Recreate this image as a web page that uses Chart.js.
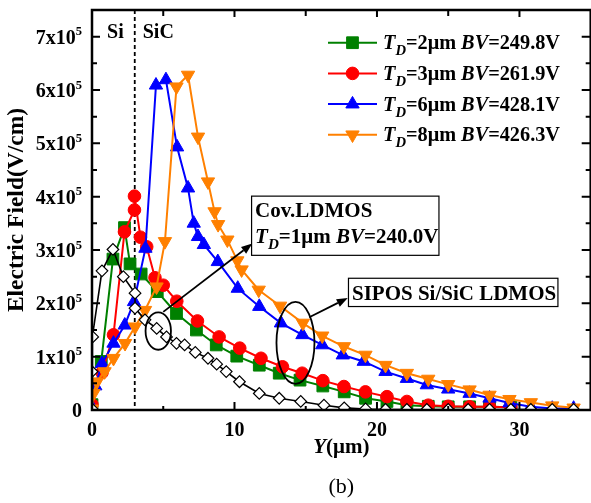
<!DOCTYPE html>
<html>
<head>
<meta charset="utf-8">
<script src="https://cdn.jsdelivr.net/npm/chart.js@4.4.0/dist/chart.umd.min.js"></script>
<style>
  html, body { margin: 0; padding: 0; background: #fff; overflow: hidden; }
  #wrap { position: relative; width: 600px; height: 503px; }
</style>
</head>
<body>
<div id="wrap"><canvas id="c" width="600" height="503"></canvas></div>
<script>
// Electric field along the surface (units of 10^5 V/cm) versus position Y (µm)

// T_D = 2 µm
const yTD2 = [0, 0.65, 1.47, 2.28, 2.67, 3.45, 4.58, 5.93, 7.33, 8.72, 10.16, 11.74, 13.14, 14.6, 16.2, 17.7, 19.2, 20.7, 22.1, 23.6, 25.0, 26.5, 27.9, 29.4];
const eTD2 = [0.1, 0.91, 2.83, 3.42, 2.74, 2.55, 2.22, 1.81, 1.50, 1.22, 1.01, 0.84, 0.69, 0.56, 0.45, 0.34, 0.22, 0.16, 0.09, 0.07, 0.06, 0.06, 0.06, 0.05];

// T_D = 3 µm
const yTD3 = [0, 0.7, 1.51, 2.28, 2.98, 2.98, 3.4, 3.84, 4.42, 5.0, 5.95, 7.4, 8.92, 10.37, 11.86, 13.37, 14.75, 16.2, 17.68, 19.19, 20.7, 22.1, 23.6, 25.0, 26.5, 27.9, 29.4];
const eTD3 = [0.1, 0.7, 1.41, 3.34, 3.75, 4.01, 3.24, 3.06, 2.48, 2.34, 2.04, 1.67, 1.37, 1.16, 0.97, 0.81, 0.69, 0.55, 0.44, 0.34, 0.25, 0.16, 0.09, 0.07, 0.06, 0.06, 0.05];

// T_D = 6 µm
const yTD6 = [0, 0.23, 0.7, 1.51, 2.3, 2.95, 3.75, 4.49, 5.19, 5.97, 6.74, 7.14, 7.44, 7.85, 8.83, 10.23, 11.74, 13.26, 14.77, 16.16, 17.6, 19.07, 20.6, 22.1, 23.5, 25.0, 26.5, 27.9, 29.3, 30.8, 32.3, 33.8];
const eTD6 = [0.05, 0.45, 0.87, 1.25, 1.59, 2.03, 3.03, 6.09, 6.19, 4.93, 4.16, 3.5, 3.25, 3.1, 2.78, 2.28, 1.94, 1.63, 1.41, 1.22, 1.03, 0.91, 0.72, 0.59, 0.47, 0.39, 0.31, 0.22, 0.13, 0.06, 0.03, 0.03];

// T_D = 8 µm
const yTD8 = [0, 0.1, 0.35, 0.88, 1.51, 2.32, 3.02, 3.72, 4.53, 5.12, 5.93, 6.74, 7.44, 8.14, 8.6, 8.85, 9.5, 10.2, 10.5, 11.7, 13.2, 14.8, 16.16, 17.68, 19.19, 20.6, 22.1, 23.6, 25.0, 26.5, 27.9, 29.3, 30.8, 32.3, 33.8];
const eTD8 = [0.02, 0.31, 0.53, 0.72, 0.97, 1.25, 1.56, 1.87, 2.31, 3.16, 6.06, 6.28, 5.12, 4.28, 3.72, 3.48, 3.19, 2.8, 2.63, 2.25, 1.95, 1.63, 1.39, 1.19, 1.03, 0.84, 0.69, 0.58, 0.48, 0.38, 0.28, 0.2, 0.14, 0.08, 0.04];

// Conventional LDMOS, T_D = 1 µm
const yConv = [0, 0, 0.05, 0.7, 1.47, 2.2, 3.02, 3.02, 3.72, 4.54, 5.23, 5.93, 6.5, 7.25, 8.14, 8.75, 9.42, 10.35, 11.74, 13.14, 14.65, 16.28, 17.7, 19.2, 20.6, 22.1, 23.5, 25.0, 26.4, 27.9, 29.4, 30.8, 32.3, 33.8];
const eConv = [0.02, 0.72, 1.37, 2.61, 3.01, 2.5, 2.19, 1.91, 1.69, 1.53, 1.37, 1.25, 1.22, 1.08, 0.97, 0.86, 0.72, 0.53, 0.31, 0.22, 0.16, 0.09, 0.04, 0.02, 0.01, 0.01, 0.01, 0.01, 0.01, 0.01, 0.01, 0.01, 0.01, 0.01];

// Legend values
const tdLabels = ['2', '3', '6', '8'];
const bvLabels = ['249.8', '261.9', '428.1', '426.3'];

// Axis ticks
const xMajorTicks = [0, 10, 20, 30];
const xMinorTicks = [5, 15, 25];
const yMajorTicks = [0, 1, 2, 3, 4, 5, 6, 7];
const yMinorTicks = [0.5, 1.5, 2.5, 3.5, 4.5, 5.5, 6.5];
const xTickLabels = ['0', '10', '20', '30'];
const yTickLabels = ['0', '1', '2', '3', '4', '5', '6', '7'];

const X_MAX = 35, Y_MAX = 7.5;
const INTERFACE_Y = 3;           // Si / SiC boundary, µm

const FONT = '"Liberation Serif", "Times New Roman", serif';

function series(xs, es, color, style, radius, rotation, fill, order) {
  return {
    data: xs.map((x, i) => ({ x: x, y: es[i] })),
    showLine: true,
    borderColor: color,
    borderWidth: 2,
    backgroundColor: fill,
    pointBackgroundColor: fill,
    pointBorderColor: color,
    pointBorderWidth: 1,
    pointStyle: style,
    pointRadius: radius,
    pointRotation: rotation,
    tension: 0,
    clip: 0,
    order: order
  };
}

const GREEN = '#008000', RED = '#ff0000', BLUE = '#0000ff', ORANGE = '#ff8000';

const legendItems = [
  { color: GREEN,  style: 'rect',     radius: 8.3, rotation: 0 },
  { color: RED,    style: 'circle',   radius: 6.3, rotation: 0 },
  { color: BLUE,   style: 'triangle', radius: 7.7, rotation: 0 },
  { color: ORANGE, style: 'triangle', radius: 7.7, rotation: 180 }
];

const datasets = [
  series(yTD2, eTD2, GREEN,  'rect',     8.3, 0,   GREEN,  4),
  series(yTD3, eTD3, RED,    'circle',   6.3, 0,   RED,    3),
  series(yTD6, eTD6, BLUE,   'triangle', 7.7, 0,   BLUE,   2),
  series(yTD8, eTD8, ORANGE, 'triangle', 7.7, 180, ORANGE, 1),
  Object.assign(series(yConv, eConv, '#000000', 'rectRot', 5.8, 0, '#ffffff', 0), { pointBorderWidth: 1.2, borderWidth: 1.6 })
];

function runs(ctx, parts, x, y, size) {
  let cx = x;
  for (const p of parts) {
    const fs = p.sub ? size * 0.72 : size;
    ctx.font = (p.it ? 'italic ' : '') + 'bold ' + fs + 'px ' + FONT;
    ctx.fillText(p.t, cx, p.sub ? y + size * 0.3 : y);
    cx += ctx.measureText(p.t).width;
  }
  return cx;
}

function arrow(ctx, x0, y0, x1, y1) {
  const a = Math.atan2(y1 - y0, x1 - x0), L = 11, W = 4.2;
  const bx = x1 - L * Math.cos(a), by = y1 - L * Math.sin(a);
  ctx.beginPath(); ctx.moveTo(x0, y0); ctx.lineTo(bx, by); ctx.stroke();
  ctx.beginPath();
  ctx.moveTo(x1, y1);
  ctx.lineTo(bx - W * Math.sin(a), by + W * Math.cos(a));
  ctx.lineTo(bx + W * Math.sin(a), by - W * Math.cos(a));
  ctx.closePath(); ctx.fill();
}

const decor = {
  id: 'decor',
  beforeDatasetsDraw(chart) {
    const { ctx, chartArea: a, scales: { x } } = chart;
    const px = x.getPixelForValue(INTERFACE_Y);
    ctx.save();
    ctx.strokeStyle = '#000'; ctx.lineWidth = 1.8;
    ctx.setLineDash([4, 3]);
    ctx.beginPath(); ctx.moveTo(px, a.top); ctx.lineTo(px, a.bottom); ctx.stroke();
    ctx.restore();
  },
  afterDatasetsDraw(chart) {
    const { ctx, chartArea: a, scales: { x, y } } = chart;
    const X = v => x.getPixelForValue(v), Y = v => y.getPixelForValue(v);
    ctx.save();
    ctx.fillStyle = '#000'; ctx.strokeStyle = '#000';

    // frame
    ctx.lineWidth = 2.5;
    ctx.strokeRect(a.left, a.top, a.right - a.left, a.bottom - a.top);

    // inward ticks on all four sides
    ctx.lineWidth = 2;
    ctx.beginPath();
    xMajorTicks.forEach(v => { const p = X(v); ctx.moveTo(p, a.bottom); ctx.lineTo(p, a.bottom - 8); ctx.moveTo(p, a.top); ctx.lineTo(p, a.top + 7); });
    xMinorTicks.forEach(v => { const p = X(v); ctx.moveTo(p, a.bottom); ctx.lineTo(p, a.bottom - 4); ctx.moveTo(p, a.top); ctx.lineTo(p, a.top + 6); });
    yMajorTicks.forEach(v => { const p = Y(v); ctx.moveTo(a.left, p); ctx.lineTo(a.left + 8, p); ctx.moveTo(a.right, p); ctx.lineTo(a.right - 9, p); });
    yMinorTicks.forEach(v => { const p = Y(v); ctx.moveTo(a.left, p); ctx.lineTo(a.left + 5, p); ctx.moveTo(a.right, p); ctx.lineTo(a.right - 5, p); });
    ctx.stroke();

    // x tick labels
    ctx.textBaseline = 'alphabetic';
    ctx.textAlign = 'center';
    ctx.font = 'bold 20px ' + FONT;
    xMajorTicks.forEach((v, i) => ctx.fillText(xTickLabels[i], X(v), 436));

    // y tick labels  (n x 10^5)
    const right = a.left - 10;
    yMajorTicks.forEach((v, i) => {
      const p = Y(v);
      if (v === 0) {
        ctx.textAlign = 'right'; ctx.font = 'bold 20px ' + FONT;
        ctx.fillText(yTickLabels[i], right, p + 7);
        return;
      }
      ctx.font = 'bold 12.5px ' + FONT;
      const sw = ctx.measureText('5').width;
      ctx.textAlign = 'left';
      ctx.fillText('5', right - sw, p - 1.5);
      ctx.textAlign = 'right'; ctx.font = 'bold 20px ' + FONT;
      ctx.fillText(yTickLabels[i] + 'x10', right - sw, p + 7);
    });

    // axis titles
    ctx.textAlign = 'left';
    ctx.font = 'italic bold 21px ' + FONT;
    const t1 = 'Y', t2 = '(μm)';
    const w1 = ctx.measureText(t1).width;
    ctx.font = 'bold 21px ' + FONT;
    const w2 = ctx.measureText(t2).width;
    const cxT = (a.left + a.right) / 2 - (w1 + w2) / 2;
    ctx.font = 'italic bold 21px ' + FONT; ctx.fillText(t1, cxT, 453);
    ctx.font = 'bold 21px ' + FONT; ctx.fillText(t2, cxT + w1, 453);

    ctx.save();
    ctx.translate(17, (a.top + a.bottom) / 2);
    ctx.rotate(-Math.PI / 2);
    ctx.textAlign = 'center'; ctx.textBaseline = 'middle';
    ctx.font = 'bold 23.5px ' + FONT;
    ctx.fillText('Electric Field(V/cm)', 0, 0);
    ctx.restore();

    // caption
    ctx.textAlign = 'center'; ctx.textBaseline = 'alphabetic';
    ctx.font = '22px ' + FONT;
    ctx.fillText('(b)', (a.left + a.right) / 2, 493);

    // region labels
    ctx.font = 'bold 20px ' + FONT;
    const ip = X(INTERFACE_Y);
    ctx.textAlign = 'right'; ctx.fillText('Si', ip - 11, 38);
    ctx.textAlign = 'left'; ctx.fillText('SiC', ip + 8, 38);

    // legend
    ctx.textAlign = 'left';
    legendItems.forEach((it, i) => {
      const ly = 42.7 + i * 30.7;
      ctx.strokeStyle = it.color; ctx.fillStyle = it.color; ctx.lineWidth = 2;
      ctx.beginPath(); ctx.moveTo(328, ly); ctx.lineTo(377, ly); ctx.stroke();
      ctx.lineWidth = 1;
      Chart.helpers.drawPoint(ctx, { pointStyle: it.style, radius: it.radius, rotation: it.rotation, borderWidth: 1 }, 352.5, ly);
      ctx.fillStyle = '#000';
      runs(ctx, [
        { t: 'T', it: true }, { t: 'D', it: true, sub: true },
        { t: '=' + tdLabels[i] + 'μm ' }, { t: 'BV', it: true },
        { t: '=' + bvLabels[i] + 'V' }
      ], 383, ly + 6.6, 20.3);
    });
    ctx.strokeStyle = '#000'; ctx.fillStyle = '#000';

    // ellipses marking the two curve groups
    ctx.lineWidth = 1.8;
    ctx.beginPath(); ctx.ellipse(X(4.65), Y(1.48), 12.7, 18.7, 0, 0, Math.PI * 2); ctx.stroke();
    ctx.beginPath(); ctx.ellipse(X(14.28), Y(1.26), 19, 41, 0, 0, Math.PI * 2); ctx.stroke();

    // arrows to the note boxes
    ctx.lineWidth = 1.8;
    arrow(ctx, X(5.0), Y(1.84), X(11.25), Y(3.12));
    arrow(ctx, X(15.25), Y(1.74), X(17.95), Y(2.1));

    // note boxes
    ctx.lineWidth = 1.2;
    const b1 = { l: X(11.2), r: X(24.35), t: Y(4.01), b: Y(2.9) };
    ctx.fillStyle = '#fff';
    ctx.fillRect(b1.l, b1.t, b1.r - b1.l, b1.b - b1.t);
    ctx.strokeRect(b1.l, b1.t, b1.r - b1.l, b1.b - b1.t);
    ctx.fillStyle = '#000';
    ctx.font = 'bold 21px ' + FONT; ctx.textAlign = 'left';
    ctx.fillText('Cov.LDMOS', b1.l + 3.5, b1.t + 21);
    runs(ctx, [
      { t: 'T', it: true }, { t: 'D', it: true, sub: true },
      { t: '=1μm ' }, { t: 'BV', it: true }, { t: '=240.0V' }
    ], b1.l + 3.5, b1.t + 47, 21);

    const b2 = { l: X(18.0), r: X(32.7), t: Y(2.47), b: Y(1.94) };
    ctx.fillStyle = '#fff';
    ctx.fillRect(b2.l, b2.t, b2.r - b2.l, b2.b - b2.t);
    ctx.strokeRect(b2.l, b2.t, b2.r - b2.l, b2.b - b2.t);
    ctx.fillStyle = '#000';
    ctx.font = 'bold 21px ' + FONT;
    ctx.fillText('SIPOS Si/SiC LDMOS', b2.l + 3.5, b2.t + 22);

    ctx.restore();
  }
};

new Chart(document.getElementById('c'), {
  type: 'scatter',
  data: { datasets: datasets },
  options: {
    responsive: false,
    animation: false,
    devicePixelRatio: 1,
    layout: { padding: { left: 92, right: 7, top: 10, bottom: 93 } },
    plugins: { legend: { display: false }, tooltip: { enabled: false } },
    scales: {
      x: { type: 'linear', min: 0, max: X_MAX, display: false },
      y: { type: 'linear', min: 0, max: Y_MAX, display: false }
    }
  },
  plugins: [decor]
});
</script>
</body>
</html>
